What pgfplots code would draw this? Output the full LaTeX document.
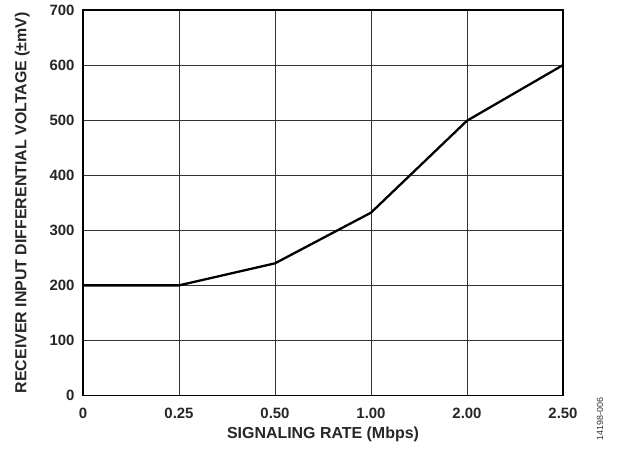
\documentclass[border=0pt]{standalone}
\usepackage{fontspec}
\setmainfont{Liberation Sans}
\usepackage{pgfplots}
\pgfplotsset{compat=1.18}
\begin{document}
\begin{tikzpicture}[x=1bp,y=1bp]
\begin{axis}[
  at={(0,0)}, anchor=south west,
  scale only axis,
  width=480bp, height=385.5bp,
  xmin=0, xmax=5, ymin=0, ymax=700,
  xtick={0,1,2,3,4,5},
  xticklabels={0,0.25,0.50,1.00,2.00,2.50},
  ytick={0,100,...,700},
  grid=major,
  major grid style={line width=0.9pt, black!80},
  axis line style={line width=1.4pt, black},
  tick style={draw=none},
  /pgf/number format/assume math mode=true,
  ticklabel style={font=\fontsize{15}{17}\selectfont\bfseries, text=black!85},
  xticklabel style={yshift=-9bp},
  yticklabel style={xshift=-5bp},
  xlabel={SIGNALING RATE (Mbps)},
  ylabel={RECEIVER INPUT DIFFERENTIAL VOLTAGE (\textpm mV)},
  label style={font=\fontsize{16}{18}\selectfont\bfseries, text=black!85},
  xlabel style={yshift=-2bp},
  ylabel style={yshift=13bp},
  clip=false,
]
\addplot[black, line width=2.3pt, line join=round] coordinates {
  (0,200) (1,200) (2,240) (3,332) (4,499) (5,600)
};
\node[rotate=90, font=\fontsize{9}{10}\selectfont, text=black!80] at (rel axis cs:1.077,-0.061) {14198-006};
\end{axis}
\path (-83bp,-53.5bp) rectangle (536bp,395.5bp);
\end{tikzpicture}
\end{document}
